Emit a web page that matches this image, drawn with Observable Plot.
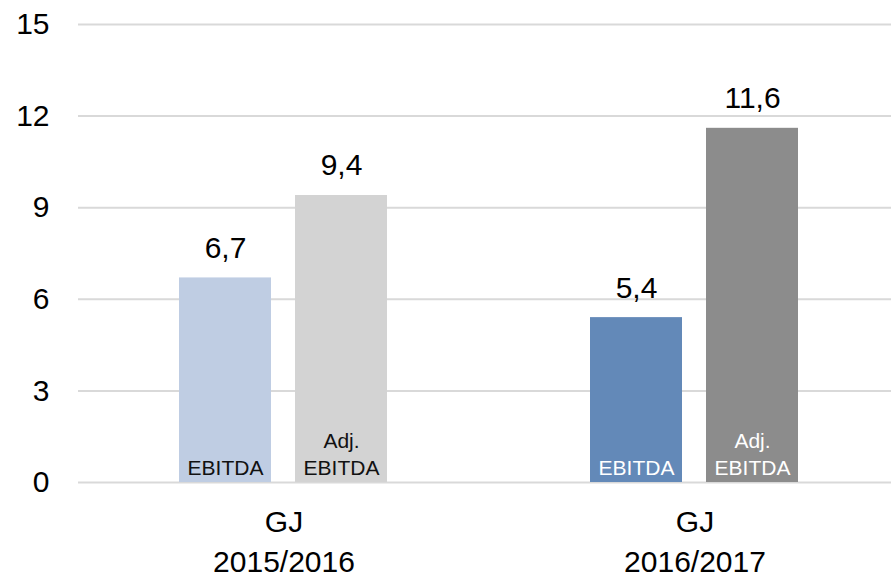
<!DOCTYPE html>
<html><head><meta charset="utf-8">
<script src="https://cdn.jsdelivr.net/npm/d3@7"></script>
<script src="https://cdn.jsdelivr.net/npm/@observablehq/plot@0.6"></script>
<style>
body{margin:0;background:#fff;}
svg{font-family:"Liberation Sans",Arial,sans-serif;}
</style></head><body><div id="chart"></div>
<script>
const periods = ["GJ\n2015/2016", "GJ\n2016/2017"];
const measures = ["EBITDA", "Adj.\nEBITDA"];
const ebitda = [6.7, 5.4];
const adjEbitda = [9.4, 11.6];
const yTicks = [0, 3, 6, 9, 12, 15];

const rows = periods.flatMap((p, i) => [
  {period: p, measure: measures[0], value: ebitda[i], key: `${i}-0`, dark: i === 1},
  {period: p, measure: measures[1], value: adjEbitda[i], key: `${i}-1`, dark: i === 1}
]);
const keys = ["0-0", "0-1", "1-0", "1-1"];
const fills = ["#bfcde3", "#d3d3d3", "#6389b8", "#8c8c8c"];
const fmt = v => d3.format(".1f")(v).replace(".", ",");

const plot = Plot.plot({
  width: 891, height: 575,
  marginLeft: 77, marginRight: -9, marginTop: 24, marginBottom: 93,
  style: {fontFamily: "'Liberation Sans', Arial, sans-serif", fontSize: "30px", color: "#000", background: "#fff"},
  fx: {domain: periods, padding: 0, label: null},
  x: {domain: measures, axis: null, paddingInner: 0.205, paddingOuter: 0.861},
  y: {domain: [0, 15], axis: null},
  color: {domain: keys, range: fills},
  marks: [
    Plot.ruleY(yTicks, {stroke: "#d9d9d9", strokeWidth: 2}),
    Plot.barY(rows, {fx: "period", x: "measure", y: "value", fill: "key"}),
    Plot.text(rows, {fx: "period", x: "measure", y: "value", text: d => fmt(d.value), lineAnchor: "bottom", dy: -20, fontSize: 30, fill: "#000"}),
    Plot.text(rows.filter(d => !d.dark), {fx: "period", x: "measure", y: () => 0, text: "measure", lineAnchor: "bottom", dy: -8, fontSize: 21, lineHeight: 1.24, fill: "#111"}),
    Plot.text(rows.filter(d => d.dark), {fx: "period", x: "measure", y: () => 0, text: "measure", lineAnchor: "bottom", dy: -8, fontSize: 21, lineHeight: 1.24, fill: "#fff"}),
    Plot.axisY(yTicks, {tickSize: 0, tickPadding: 29, fontSize: 30, label: null}),
    Plot.axisFx({anchor: "bottom", tickSize: 0, tickPadding: 21, fontSize: 30, lineHeight: 1.33, label: null})
  ]
});
document.getElementById("chart").appendChild(plot);
</script>
</body></html>
